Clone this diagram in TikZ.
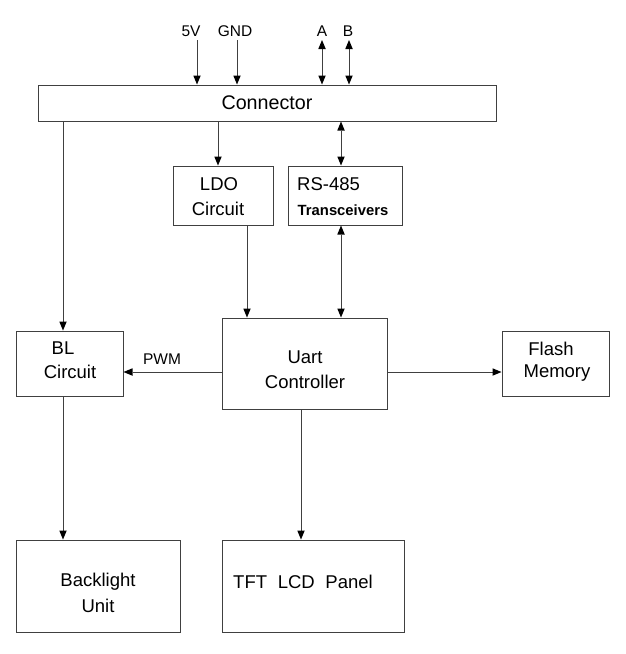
\documentclass[tikz,border=0pt]{standalone}
\usepackage{fontspec}
\setmainfont{Liberation Sans}
\usetikzlibrary{arrows.meta}
\definecolor{linegray}{HTML}{404040}
\begin{document}
\begin{tikzpicture}[x=1pt,y=-1pt,
  box/.style={draw=linegray,line width=1pt,inner sep=0pt},
  lbl/.style={inner sep=0pt,font=\fontsize{18.5}{22}\selectfont},
  small/.style={inner sep=0pt,font=\fontsize{15.5}{18}\selectfont},
  tip/.tip={Triangle[length=9pt,width=7.5pt,fill=black,line width=0pt]},
  arr/.style={draw=linegray,line width=1pt,-tip},
  darr/.style={draw=linegray,line width=1pt,tip-tip}]
\useasboundingbox (0,0) rectangle (626,654);
% boxes
\node[box,minimum width=458pt,minimum height=36pt] (conn) at (267,103) {};
\node[box,minimum width=100pt,minimum height=59pt] (ldo) at (223,195.5) {};
\node[box,minimum width=114pt,minimum height=59pt] (rs) at (345,195.5) {};
\node[box,minimum width=165pt,minimum height=91pt] (uart) at (304.5,363.5) {};
\node[box,minimum width=107pt,minimum height=65pt] (bl) at (69.5,363.5) {};
\node[box,minimum width=107pt,minimum height=65pt] (flash) at (555.5,363.5) {};
\node[box,minimum width=164pt,minimum height=92pt] (back) at (98,586) {};
\node[box,minimum width=182pt,minimum height=92pt] (tft) at (313,586) {};
% texts
\node[lbl,font=\fontsize{19.7}{22}\selectfont] (tconn) at (267,103) {Connector};
\node[lbl] (tldo1) at (219,184) {LDO};
\node[lbl] (tldo2) at (218,209) {Circuit};
\node[lbl,anchor=west] (trs1) at (297,184) {RS-485};
\node[small,font=\bfseries\fontsize{14.8}{17}\selectfont] (trs2) at (343,210) {Transceivers};
\node[lbl] (tu1) at (305,357) {Uart};
\node[lbl] (tu2) at (305,382) {Controller};
\node[lbl] (tbl1) at (63,348) {BL};
\node[lbl] (tbl2) at (70,372) {Circuit};
\node[lbl] (tfl1) at (551,349) {Flash};
\node[lbl] (tfl2) at (557,373) {Memory};
\node[lbl] (tbk1) at (98,582) {Backlight};
\node[lbl] (tbk2) at (98,606) {Unit};
\node[lbl,anchor=west] (ttft) at (233,582) {TFT\hspace{0.3em} LCD\hspace{0.3em} Panel};
\node[small] (t5v) at (191,31) {5V};
\node[small] (tgnd) at (235,31) {GND};
\node[small] (ta) at (322,31) {A};
\node[small] (tb) at (348,31) {B};
\node[small] (tpwm) at (162,359) {PWM};
% column coordinates
\coordinate (c5v) at (197,40);
\coordinate (cgnd) at (237,40);
\coordinate (ca) at (322,40);
\coordinate (cb) at (349,40);
\coordinate (xldo) at (218,0);
\coordinate (xrs) at (341,0);
\coordinate (xlu) at (247,0);
\coordinate (xbl) at (63,0);
\coordinate (xtft) at (301,0);
\coordinate (yside) at (0,372);
% connectors
\draw[arr] (c5v) -- (c5v |- conn.north);
\draw[arr] (cgnd) -- (cgnd |- conn.north);
\draw[darr] (ca) -- (ca |- conn.north);
\draw[darr] (cb) -- (cb |- conn.north);
\draw[arr] (conn.south -| xldo) -- (ldo.north -| xldo);
\draw[darr] (conn.south -| xrs) -- (rs.north -| xrs);
\draw[darr] (rs.south -| xrs) -- (uart.north -| xrs);
\draw[arr] (ldo.south -| xlu) -- (uart.north -| xlu);
\draw[arr] (conn.south -| xbl) -- (bl.north -| xbl);
\draw[arr] (uart.west |- yside) -- (bl.east |- yside);
\draw[arr] (uart.east |- yside) -- (flash.west |- yside);
\draw[arr] (bl.south -| xbl) -- (back.north -| xbl);
\draw[arr] (uart.south -| xtft) -- (tft.north -| xtft);
\end{tikzpicture}
\end{document}
